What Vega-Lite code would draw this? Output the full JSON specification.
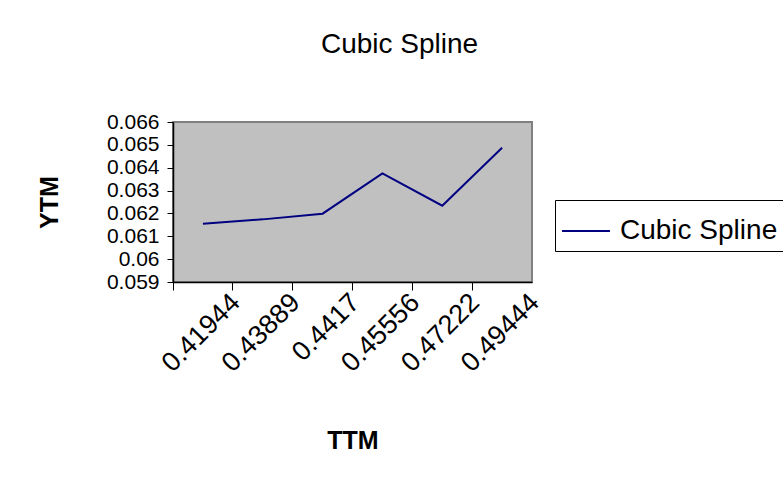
{
  "$schema": "https://vega.github.io/schema/vega-lite/v6.json",
  "autosize": {"type": "none"},
  "padding": {"left": 173, "top": 122, "right": 251, "bottom": 203},
  "width": 359,
  "height": 160,
  "background": "white",
  "config": {
    "font": "Liberation Sans",
    "view": {"fill": "#C0C0C0", "stroke": "#808080", "strokeWidth": 2}
  },
  "title": {
    "text": "Cubic Spline",
    "fontSize": 28,
    "fontWeight": "normal",
    "font": "Liberation Sans",
    "color": "black",
    "anchor": "middle",
    "dx": 47,
    "offset": 52
  },
  "data": {
    "values": [
      {"TTM": "0.41944", "YTM": 0.06155, "series": "Cubic Spline"},
      {"TTM": "0.43889", "YTM": 0.06174, "series": "Cubic Spline"},
      {"TTM": "0.4417", "YTM": 0.06199, "series": "Cubic Spline"},
      {"TTM": "0.45556", "YTM": 0.06375, "series": "Cubic Spline"},
      {"TTM": "0.47222", "YTM": 0.06234, "series": "Cubic Spline"},
      {"TTM": "0.49444", "YTM": 0.06487, "series": "Cubic Spline"}
    ]
  },
  "mark": {"type": "line", "strokeWidth": 2},
  "encoding": {
    "x": {
      "field": "TTM",
      "type": "ordinal",
      "sort": null,
      "scale": {"type": "band", "paddingInner": 0, "paddingOuter": 0},
      "axis": {
        "title": "TTM",
        "titleFontSize": 25,
        "titleFontWeight": "bold",
        "titleColor": "black",
        "titlePadding": 52,
        "labelFontSize": 27,
        "labelColor": "black",
        "labelAngle": -45,
        "labelAlign": "right",
        "labelBaseline": "middle",
        "labelOffset": 33,
        "labelPadding": 8,
        "bandPosition": 0,
        "tickColor": "black",
        "tickSize": 8,
        "domainColor": "black",
        "domainWidth": 1.5,
        "labelOverlap": false
      }
    },
    "y": {
      "field": "YTM",
      "type": "quantitative",
      "scale": {"domain": [0.059, 0.066], "nice": false, "zero": false},
      "axis": {
        "title": "YTM",
        "titleFontSize": 25,
        "titleFontWeight": "bold",
        "titleColor": "black",
        "titlePadding": 44,
        "values": [0.059, 0.06, 0.061, 0.062, 0.063, 0.064, 0.065, 0.066],
        "format": "~g",
        "labelFontSize": 21,
        "labelColor": "black",
        "labelPadding": 8,
        "labelOverlap": false,
        "labelBound": false,
        "labelFlush": false,
        "tickColor": "black",
        "tickSize": 6,
        "domainColor": "black",
        "domainWidth": 1.5,
        "grid": false
      }
    },
    "color": {
      "field": "series",
      "type": "nominal",
      "scale": {"range": ["#000080"]},
      "legend": {
        "title": null,
        "orient": "none",
        "legendX": 382,
        "legendY": 78,
        "symbolType": "stroke",
        "symbolSize": 2300,
        "symbolStrokeWidth": 2,
        "labelFontSize": 28,
        "labelColor": "black",
        "strokeColor": "black",
        "fillColor": "white",
        "padding": 6,
        "labelOffset": 9
      }
    }
  }
}
